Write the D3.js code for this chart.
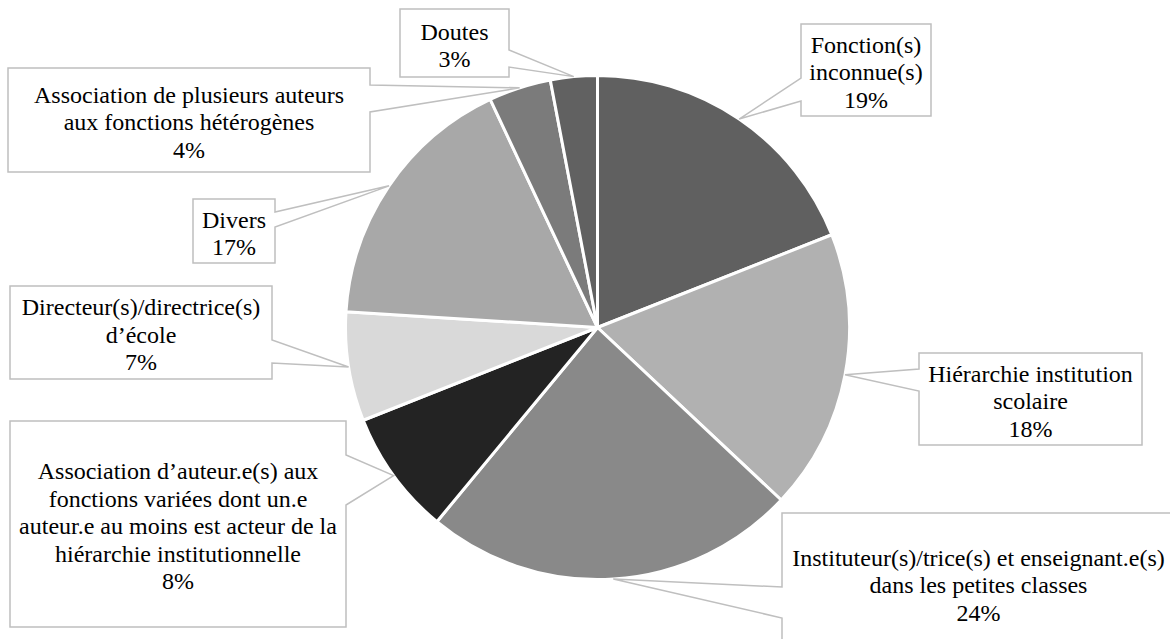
<!DOCTYPE html>
<html>
<head>
<meta charset="utf-8">
<script src="https://cdn.jsdelivr.net/npm/d3@7"></script>
<style>
  html, body { margin: 0; padding: 0; background: #ffffff; }
  svg { display: block; }
  text.lbl { font-family: "Liberation Serif", Tinos, "Times New Roman", "DejaVu Serif", serif; font-size: 24px; fill: #000000; }
</style>
</head>
<body>
<svg id="chart" width="1170" height="639"></svg>
<script>
// ---- data ----
const categories = [
  "Fonction(s) inconnue(s)",
  "Hiérarchie institution scolaire",
  "Instituteur(s)/trice(s) et enseignant.e(s) dans les petites classes",
  "Association d’auteur.e(s) aux fonctions variées dont un.e auteur.e au moins est acteur de la hiérarchie institutionnelle",
  "Directeur(s)/directrice(s) d’école",
  "Divers",
  "Association de plusieurs auteurs aux fonctions hétérogènes",
  "Doutes"
];
const values = [19, 18, 24, 8, 7, 17, 4, 3];
const labelLines = [
  ["Fonction(s)", "inconnue(s)"],
  ["Hiérarchie institution", "scolaire"],
  ["Instituteur(s)/trice(s) et enseignant.e(s)", "dans les petites classes"],
  ["Association d’auteur.e(s) aux", "fonctions variées dont un.e", "auteur.e au moins est acteur de la", "hiérarchie institutionnelle"],
  ["Directeur(s)/directrice(s)", "d’école"],
  ["Divers"],
  ["Association de plusieurs auteurs", "aux fonctions hétérogènes"],
  ["Doutes"]
];
const sliceColors = ["#606060", "#b1b1b1", "#898989", "#232323", "#d9d9d9", "#a8a8a8", "#7b7b7b", "#616161"];

// ---- layout (callout boxes: x, y, w, h, side of leader, leader base y0, y1) ----
const boxLayout = [
  { x: 801, y: 24,  w: 130, h: 92,  side: "left",  b0: 78,  b1: 101 },
  { x: 919, y: 353, w: 223, h: 92,  side: "left",  b0: 369, b1: 391 },
  { x: 782, y: 513, w: 393, h: 140, side: "left",  b0: 587, b1: 618 },
  { x: 10,  y: 421, w: 336, h: 206, side: "right", b0: 455, b1: 505 },
  { x: 10,  y: 286, w: 262, h: 93,  side: "right", b0: 340, b1: 363 },
  { x: 193, y: 199, w: 82,  h: 64,  side: "right", b0: 212, b1: 227 },
  { x: 8,   y: 68,  w: 362, h: 104, side: "right", b0: 85,  b1: 112 },
  { x: 400, y: 9,   w: 109, h: 68,  side: "right", b0: 50,  b1: 67 }
];

const cx = 597.5, cy = 327.5, R = 252;
const lineH = 27.5;

const svg = d3.select("#chart");

const pie = d3.pie().sort(null).value(d => d.value).startAngle(0).endAngle(2 * Math.PI);
const data = categories.map((c, i) => ({ name: c, value: values[i], lines: labelLines[i].concat([values[i] + "%"]), color: sliceColors[i], box: boxLayout[i] }));
const arcs = pie(data);
const arc = d3.arc().innerRadius(0).outerRadius(R);

const g = svg.append("g").attr("transform", `translate(${cx},${cy})`);
g.selectAll("path.slice")
  .data(arcs)
  .enter().append("path")
  .attr("class", "slice")
  .attr("d", arc)
  .attr("fill", d => d.data.color)
  .attr("stroke", "#ffffff")
  .attr("stroke-width", 3)
  .attr("stroke-linejoin", "round");

// callouts
const labels = svg.append("g");
arcs.forEach(a => {
  const b = a.data.box;
  const mid = (a.startAngle + a.endAngle) / 2;
  const tx = cx + R * Math.sin(mid);
  const ty = cy - R * Math.cos(mid);
  let p;
  if (b.side === "left") {
    p = `M${b.x},${b.y} L${b.x + b.w},${b.y} L${b.x + b.w},${b.y + b.h} L${b.x},${b.y + b.h} L${b.x},${b.b1} L${tx},${ty} L${b.x},${b.b0} Z`;
  } else {
    p = `M${b.x},${b.y} L${b.x + b.w},${b.y} L${b.x + b.w},${b.b0} L${tx},${ty} L${b.x + b.w},${b.b1} L${b.x + b.w},${b.y + b.h} L${b.x},${b.y + b.h} Z`;
  }
  labels.append("path")
    .attr("d", p)
    .attr("fill", "#ffffff")
    .attr("stroke", "#bfbfbf")
    .attr("stroke-width", 1.5)
    .attr("stroke-linejoin", "miter");

  const lines = a.data.lines;
  const centerY = b.y + b.h / 2 + 2;
  const firstY = centerY - (lines.length - 1) * lineH / 2;
  const t = labels.append("text")
    .attr("class", "lbl")
    .attr("text-anchor", "middle");
  lines.forEach((ln, k) => {
    t.append("tspan")
      .attr("x", b.x + b.w / 2)
      .attr("y", firstY + k * lineH)
      .attr("dy", "0.35em")
      .text(ln);
  });
});
</script>
</body>
</html>
